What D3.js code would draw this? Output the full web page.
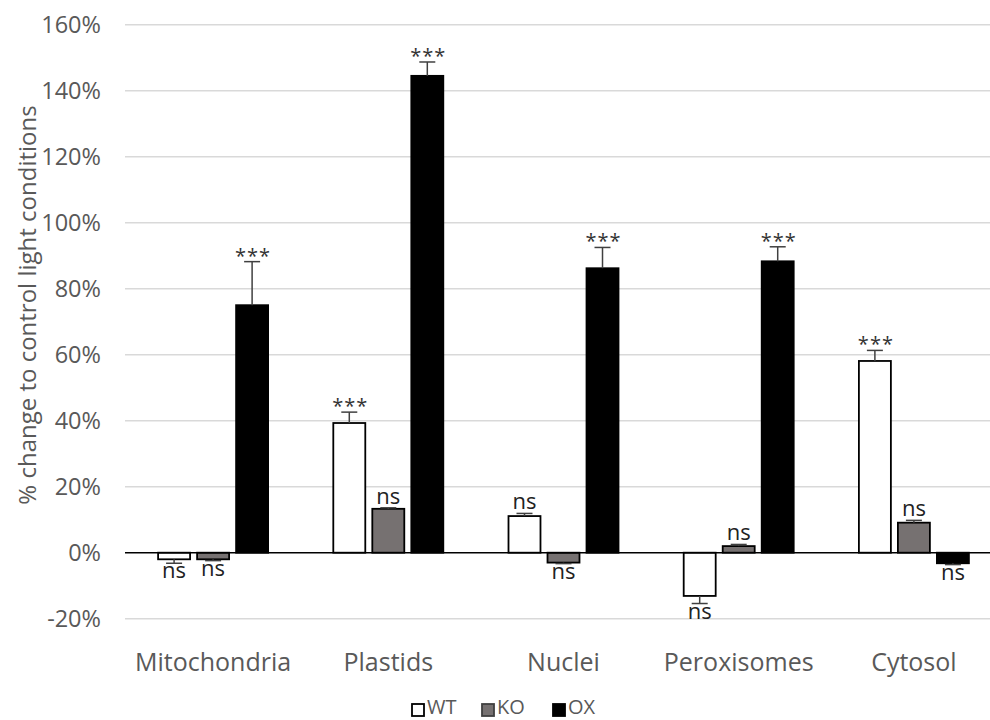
<!DOCTYPE html>
<html>
<head>
<meta charset="utf-8">
<script src="https://cdn.jsdelivr.net/npm/d3@7"></script>
<style>
  body { margin: 0; background: #fff; }
  text { font-family: "Open Sans", "Noto Sans", sans-serif; }
</style>
</head>
<body>
<div id="chart"></div>
<script>
// data (percent change)
const categories = ["Mitochondria", "Plastids", "Nuclei", "Peroxisomes", "Cytosol"];
const series = ["WT", "KO", "OX"];
const wtValues = [-2.0, 39.3, 11.1, -13.1, 58.1];
const koValues = [-2.0, 13.3, -3.0, 2.0, 9.1];
const oxValues = [75.0, 144.5, 86.2, 88.3, -3.2];
const wtErrors = [1.2, 3.3, 0.8, 2.3, 3.2];
const koErrors = [0.4, 0.3, 0.3, 0.5, 0.7];
const oxErrors = [13.2, 4.2, 6.3, 4.4, 0.4];
const wtSig = ["ns", "***", "ns", "ns", "***"];
const koSig = ["ns", "ns", "ns", "ns", "ns"];
const oxSig = ["***", "***", "***", "***", "ns"];
const yTicks = [-20, 0, 20, 40, 60, 80, 100, 120, 140, 160];

const values = { WT: wtValues, KO: koValues, OX: oxValues };
const errors = { WT: wtErrors, KO: koErrors, OX: oxErrors };
const sigs = { WT: wtSig, KO: koSig, OX: oxSig };
const fills = { WT: "#ffffff", KO: "#767171", OX: "#000000" };

const width = 990, height = 720;
const textColor = "#595959";

const svg = d3.select("#chart").append("svg")
  .attr("width", width)
  .attr("height", height);

svg.append("rect").attr("width", width).attr("height", height).attr("fill", "#fff");

const x0 = d3.scaleBand()
  .domain(categories)
  .range([125.5, 1001.5]);

const x1 = d3.scaleBand()
  .domain(series)
  .range([-55, 55])
  .paddingInner(0.18);

const y = d3.scaleLinear()
  .domain([-20, 160])
  .range([618.7, 24.7]);

// gridlines
svg.append("g")
  .selectAll("line")
  .data(yTicks.filter((t) => t !== 0))
  .join("line")
  .attr("x1", 125)
  .attr("x2", width)
  .attr("y1", (d) => y(d))
  .attr("y2", (d) => y(d))
  .attr("stroke", "#d9d9d9")
  .attr("stroke-width", 1.5);

// y tick labels
svg.append("g")
  .selectAll("text")
  .data(yTicks)
  .join("text")
  .attr("x", 101)
  .attr("y", (d) => y(d))
  .attr("dy", "0.36em")
  .attr("text-anchor", "end")
  .attr("fill", textColor)
  .style("font-size", "23.5px")
  .text((d) => d + "%");

// y axis title
svg.append("text")
  .attr("transform", `translate(36,${305}) rotate(-90)`)
  .attr("text-anchor", "middle")
  .attr("fill", textColor)
  .style("font-size", "24px")
  .text("% change to control light conditions");

// bars
const rows = [];
categories.forEach((c, i) => {
  series.forEach((s) => {
    rows.push({ cat: c, s, v: values[s][i], e: errors[s][i], sig: sigs[s][i] });
  });
});

const bx = (d) => x0(d.cat) + x0.bandwidth() / 2 + x1(d.s);

const bars = svg.append("g");
bars.selectAll("rect")
  .data(rows)
  .join("rect")
  .attr("x", bx)
  .attr("width", x1.bandwidth())
  .attr("y", (d) => y(Math.max(0, d.v)))
  .attr("height", (d) => Math.abs(y(d.v) - y(0)))
  .attr("fill", (d) => fills[d.s])
  .attr("stroke", "#000")
  .attr("stroke-width", 1.8);

// error bars, one direction away from zero
const errEnd = (d) => (d.v >= 0 ? d.v + d.e : d.v - d.e);
const eb = svg.append("g").attr("stroke", "#404040").attr("stroke-width", 1.5);
eb.selectAll("line.v")
  .data(rows)
  .join("line")
  .attr("class", "v")
  .attr("x1", (d) => bx(d) + x1.bandwidth() / 2)
  .attr("x2", (d) => bx(d) + x1.bandwidth() / 2)
  .attr("y1", (d) => y(d.v))
  .attr("y2", (d) => y(errEnd(d)));
eb.selectAll("line.cap")
  .data(rows)
  .join("line")
  .attr("class", "cap")
  .attr("x1", (d) => bx(d) + x1.bandwidth() / 2 - 8)
  .attr("x2", (d) => bx(d) + x1.bandwidth() / 2 + 8)
  .attr("y1", (d) => y(errEnd(d)))
  .attr("y2", (d) => y(errEnd(d)));

// zero line
svg.append("line")
  .attr("x1", 125)
  .attr("x2", width)
  .attr("y1", y(0))
  .attr("y2", y(0))
  .attr("stroke", "#000")
  .attr("stroke-width", 1.5);

// significance labels
svg.append("g")
  .selectAll("text")
  .data(rows)
  .join("text")
  .attr("x", (d) => bx(d) + x1.bandwidth() / 2 + (d.sig === "***" ? 1 : 0))
  .attr("y", (d) => {
    const ey = y(errEnd(d));
    if (d.sig === "***") return ey + 1;
    return d.v >= 0 ? ey - 4 : ey + 15;
  })
  .attr("text-anchor", "middle")
  .attr("fill", (d) => (d.sig === "***" ? "#333" : "#222"))
  .style("letter-spacing", (d) => (d.sig === "***" ? "1px" : null))
  .style("font-size", (d) => (d.sig === "***" ? "20px" : "22px"))
  .text((d) => d.sig);

// category labels
svg.append("g")
  .selectAll("text")
  .data(categories)
  .join("text")
  .attr("x", (d) => x0(d) + x0.bandwidth() / 2)
  .attr("y", 671)
  .attr("text-anchor", "middle")
  .attr("fill", textColor)
  .style("font-size", "25px")
  .text((d) => d);

// legend
const legendX = [412, 482, 553];
const leg = svg.append("g")
  .selectAll("g")
  .data(series)
  .join("g")
  .attr("transform", (d, i) => `translate(${legendX[i]},704)`);
leg.append("rect")
  .attr("width", 12)
  .attr("height", 12)
  .attr("fill", (d) => fills[d])
  .attr("stroke", (d) => (d === "KO" ? "#404040" : "#000"))
  .attr("stroke-width", 1.8);
leg.append("text")
  .attr("x", 15)
  .attr("y", 10)
  .attr("fill", textColor)
  .style("font-size", "20px")
  .text((d) => d);
</script>
</body>
</html>
